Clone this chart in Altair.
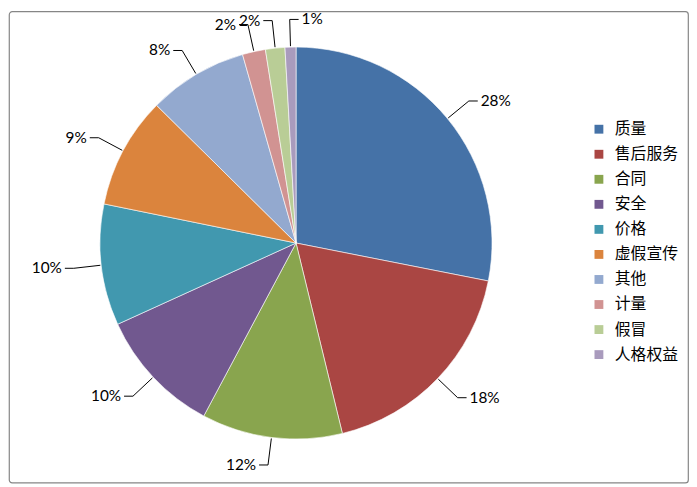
import altair as alt
import pandas as pd

categories = ["质量", "售后服务", "合同", "安全", "价格", "虚假宣传", "其他", "计量", "假冒", "人格权益"]
shares = [28.1, 18.1, 11.6, 10.4, 10.0, 9.2, 8.2, 1.9, 1.6, 0.9]
colors = ["#4572A7", "#AA4643", "#89A54E", "#71588F", "#4198AF",
          "#DB843D", "#93A9CF", "#D19392", "#B9CD96", "#A99BBD"]

df = pd.DataFrame({"cat": categories, "share": shares, "idx": list(range(len(categories)))})

CX, CY, R = 290, 234, 198
R1, R2, H = 199, 226, 9

base = alt.Chart(df)

pie = base.mark_arc(outerRadius=R, stroke="white", strokeWidth=0.6).encode(
    theta=alt.Theta("share:Q", stack=True),
    order=alt.Order("idx:Q"),
    color=alt.Color(
        "cat:N",
        scale=alt.Scale(domain=categories, range=colors),
        sort=categories,
        legend=alt.Legend(
            title=None, orient="none", legendX=588, legendY=111,
            symbolType="square", symbolSize=80, symbolStrokeWidth=0,
            labelFont="Noto Sans CJK SC", labelFontSize=16, labelColor="#000000",
            rowPadding=9.3, labelOffset=8, padding=0,
        ),
    ),
    x=alt.value(CX),
    y=alt.value(CY),
)

geo = base.transform_joinaggregate(total="sum(share)").transform_window(
    cum="sum(share)", sort=[alt.SortField("idx")], frame=[None, 0]
).transform_calculate(
    a="(datum.cum - datum.share / 2) / datum.total * 2 * PI",
    label="format(datum.share / datum.total, '.0%')",
).transform_calculate(
    side="sin(datum.a) >= -0.05 ? 1 : -1",
    x1=f"{CX} + {R1} * sin(datum.a)",
    y1=f"{CY} - {R1} * cos(datum.a)",
    x2=f"{CX} + {R2} * sin(datum.a)",
    y2=f"{CY} - {R2} * cos(datum.a)",
).transform_calculate(
    x3=f"datum.x2 + datum.side * {H}",
    tx=f"datum.x2 + datum.side * {H + 3}",
)

leader = geo.mark_rule(color="#000000", strokeWidth=1).encode(
    x=alt.X("x1:Q", scale=None, axis=None),
    y=alt.Y("y1:Q", scale=None, axis=None),
    x2="x2:Q",
    y2="y2:Q",
)
elbow = geo.mark_rule(color="#000000", strokeWidth=1).encode(
    x=alt.X("x2:Q", scale=None, axis=None),
    y=alt.Y("y2:Q", scale=None, axis=None),
    x2="x3:Q",
)

txt_right = geo.transform_filter("datum.side > 0").mark_text(
    align="left", baseline="middle", font="Lato", fontSize=15.5, color="#000000"
).encode(
    x=alt.X("tx:Q", scale=None, axis=None),
    y=alt.Y("y2:Q", scale=None, axis=None),
    text="label:N",
)
txt_left = geo.transform_filter("datum.side < 0").mark_text(
    align="right", baseline="middle", font="Lato", fontSize=15.5, color="#000000"
).encode(
    x=alt.X("tx:Q", scale=None, axis=None),
    y=alt.Y("y2:Q", scale=None, axis=None),
    text="label:N",
)

chart = alt.layer(pie, leader, elbow, txt_right, txt_left).properties(
    width=686, height=476,
    padding={"left": 1, "top": 1, "right": 1, "bottom": 1},
    autosize=alt.AutoSizeParams(type="none"),
    background="white",
).configure_view(
    stroke="#868686", strokeWidth=1.2, cornerRadius=3
)

chart.save("out.html", embed_options={"renderer": "svg", "actions": False})
